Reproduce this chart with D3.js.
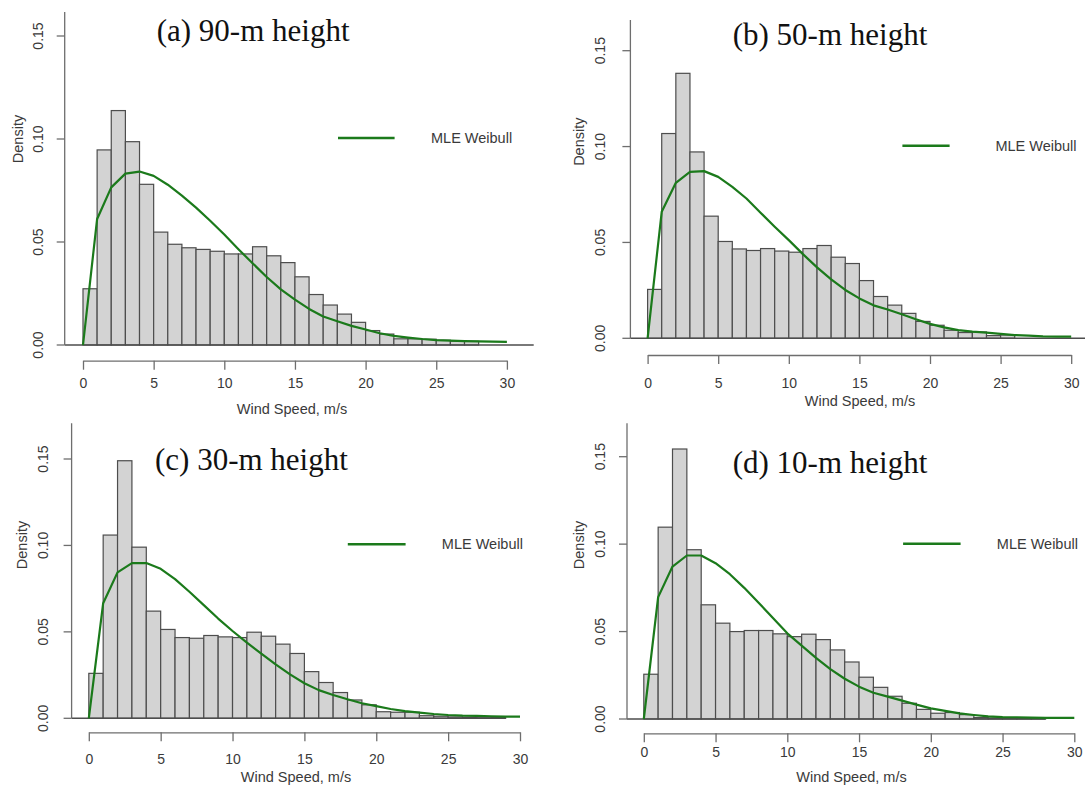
<!DOCTYPE html>
<html>
<head>
<meta charset="utf-8">
<script src="https://cdn.jsdelivr.net/npm/d3@7"></script>
<style>
  html, body { margin: 0; padding: 0; background: #fff; }
  svg { display: block; }
</style>
</head>
<body>
<svg id="chart" width="1085" height="790"></svg>
<script>
// ---- data -------------------------------------------------------------
const xTicks = [0, 5, 10, 15, 20, 25, 30];
const yTicks = [0, 0.05, 0.10, 0.15];
const yTickLabels = ["0.00", "0.05", "0.10", "0.15"];
const binWidth = 1; // m/s, histogram bins start at 0

const panelTitles = ["(a) 90-m height", "(b) 50-m height", "(c) 30-m height", "(d) 10-m height"];
const legendLabel = "MLE Weibull";
const xTitle = "Wind Speed, m/s";
const yTitle = "Density";

// fitted curve evaluated at whole m/s
const curveSpeeds = [0,1,2,3,4,5,6,7,8,9,10,11,12,13,14,15,16,17,18,19,20,21,22,23,24,25,26,27,28,29,30];

// histogram densities per 1 m/s bin
const hist90 = [0.0273, 0.0947, 0.1138, 0.0987, 0.0780, 0.0548, 0.0489, 0.0472, 0.0464, 0.0455,
                0.0442, 0.0442, 0.0477, 0.0433, 0.0400, 0.0331, 0.0245, 0.0194, 0.0150, 0.0110,
                0.0070, 0.0053, 0.0030, 0.0030, 0.0028, 0.0023, 0.0019, 0.0018];
const hist50 = [0.0255, 0.1068, 0.1382, 0.0972, 0.0637, 0.0505, 0.0466, 0.0458, 0.0468, 0.0455,
                0.0449, 0.0468, 0.0484, 0.0423, 0.0390, 0.0301, 0.0218, 0.0173, 0.0130, 0.0088,
                0.0068, 0.0042, 0.0030, 0.0033, 0.0014, 0.0017];
const hist30 = [0.0260, 0.1060, 0.1490, 0.0990, 0.0620, 0.0514, 0.0467, 0.0463, 0.0479, 0.0471,
                0.0467, 0.0498, 0.0475, 0.0429, 0.0375, 0.0270, 0.0207, 0.0149, 0.0106, 0.0078,
                0.0038, 0.0035, 0.0035, 0.0015, 0.0012, 0.0008, 0.0006, 0.0008, 0.0006];
const hist10 = [0.0256, 0.1097, 0.1544, 0.0968, 0.0653, 0.0548, 0.0500, 0.0506, 0.0506, 0.0487,
                0.0471, 0.0485, 0.0454, 0.0395, 0.0326, 0.0239, 0.0181, 0.0130, 0.0090, 0.0055,
                0.0033, 0.0037, 0.0025, 0.0008, 0.0006, 0.0005, 0.0005, 0.0005];

// MLE Weibull density at curveSpeeds
const weibull90 = [0, 0.0612, 0.0765, 0.0832, 0.0842, 0.0821, 0.0778, 0.0725, 0.0667, 0.0603,
                   0.0536, 0.0465, 0.0397, 0.0330, 0.0270, 0.0220, 0.0175, 0.0138, 0.0115, 0.0093,
                   0.0075, 0.0057, 0.0044, 0.0036, 0.0029, 0.0024, 0.0021, 0.0019, 0.0018, 0.0016, 0.0015];
const weibull50 = [0, 0.0660, 0.0811, 0.0868, 0.0872, 0.0842, 0.0790, 0.0729, 0.0655, 0.0582,
                   0.0512, 0.0439, 0.0370, 0.0307, 0.0252, 0.0208, 0.0172, 0.0150, 0.0125, 0.0099,
                   0.0075, 0.0057, 0.0043, 0.0035, 0.0030, 0.0023, 0.0017, 0.0014, 0.0010, 0.0009, 0.0009];
const weibull30 = [0, 0.0666, 0.0844, 0.0898, 0.0898, 0.0865, 0.0805, 0.0732, 0.0655, 0.0577,
                   0.0505, 0.0438, 0.0374, 0.0312, 0.0254, 0.0203, 0.0163, 0.0135, 0.0110, 0.0087,
                   0.0070, 0.0054, 0.0042, 0.0033, 0.0025, 0.0019, 0.0015, 0.0014, 0.0012, 0.0010, 0.0010];
const weibull10 = [0, 0.0697, 0.0872, 0.0935, 0.0935, 0.0891, 0.0828, 0.0750, 0.0665, 0.0578,
                   0.0490, 0.0420, 0.0350, 0.0285, 0.0230, 0.0185, 0.0150, 0.0128, 0.0105, 0.0082,
                   0.0061, 0.0046, 0.0032, 0.0023, 0.0015, 0.0011, 0.0010, 0.0008, 0.0007, 0.0006, 0.0006];

const histograms = [hist90, hist50, hist30, hist10];
const weibullCurves = [weibull90, weibull50, weibull30, weibull10];

// ---- layout (pixels) --------------------------------------------------
const layout = [
  { x0: 83.0,  x1: 506.9,  yZero: 345.0, yTop: 36.0,  axisTop: 12,    yAxisX: 64.7,  xAxisY: 360.7,
    baseEnd: 533.7, titleX: 156.7, titleY: 41, legY: 138, legX0: 338, legX1: 394.6, legTextX: 431,
    yTitleX: 17.9, yTitleY: 139, yLabX: 37.9, xLabY: 383, xTitleX: 292, xTitleY: 409 },
  { x0: 647.6, x1: 1071.2, yZero: 338.3, yTop: 50.7,  axisTop: 20,    yAxisX: 630.4, xAxisY: 355.0,
    baseEnd: 1085,  titleX: 732.7, titleY: 45, legY: 145.7, legX0: 902.4, legX1: 949.6, legTextX: 995.4,
    yTitleX: 579.4, yTitleY: 141.7, yLabX: 600, xLabY: 383, xTitleX: 860, xTitleY: 401 },
  { x0: 88.8,  x1: 520.0,  yZero: 718.3, yTop: 459.0, axisTop: 423.3, yAxisX: 71.6,  xAxisY: 732.3,
    baseEnd: null,  titleX: 155, titleY: 470, legY: 544.3, legX0: 347.8, legX1: 405.6, legTextX: 441.8,
    yTitleX: 21.7, yTitleY: 545, yLabX: 43, xLabY: 759, xTitleX: 296, xTitleY: 777 },
  { x0: 643.8, x1: 1074.3, yZero: 719.0, yTop: 456.7, axisTop: 423.3, yAxisX: 627.0, xAxisY: 733.3,
    baseEnd: null,  titleX: 732.7, titleY: 473, legY: 543.7, legX0: 903.1, legX1: 960.6, legTextX: 996.8,
    yTitleX: 579.4, yTitleY: 545, yLabX: 600, xLabY: 752, xTitleX: 851.5, xTitleY: 777 }
];

const style = {
  barFill: "#d3d3d3", barStroke: "#4d4d4d", axis: "#6e6e6e", text: "#3a3a3a",
  curve: "#1b7a1b", sans: "'Liberation Sans', Arial, sans-serif",
  serif: "'Liberation Serif', 'Times New Roman', serif"
};

// ---- drawing ----------------------------------------------------------
const svg = d3.select("#chart");

layout.forEach((L, p) => {
  const hist = histograms[p];
  const curve = weibullCurves[p];
  const g = svg.append("g");

  const x = d3.scaleLinear().domain([0, 30]).range([L.x0, L.x1]);
  const y = d3.scaleLinear().domain([0, 0.15]).range([L.yZero, L.yTop]);

  // histogram bars
  g.append("g").selectAll("rect")
    .data(hist)
    .join("rect")
    .attr("x", (d, i) => x(i * binWidth))
    .attr("width", (d, i) => x((i + 1) * binWidth) - x(i * binWidth))
    .attr("y", d => y(d))
    .attr("height", d => y(0) - y(d))
    .attr("fill", style.barFill)
    .attr("stroke", style.barStroke)
    .attr("stroke-width", 1.2);

  // zero line under the bars
  const baseEnd = L.baseEnd !== null ? L.baseEnd : x(hist.length * binWidth);
  g.append("line")
    .attr("x1", L.yAxisX).attr("x2", baseEnd)
    .attr("y1", y(0)).attr("y2", y(0))
    .attr("stroke", style.barStroke).attr("stroke-width", 1.4);

  // fitted Weibull density
  const line = d3.line()
    .x((d, i) => x(curveSpeeds[i]))
    .y(d => y(d));
  g.append("path")
    .datum(curve)
    .attr("d", line)
    .attr("fill", "none")
    .attr("stroke", style.curve)
    .attr("stroke-width", 2.2)
    .attr("stroke-linejoin", "round");

  // y axis
  const yAxis = g.append("g").attr("transform", `translate(${L.yAxisX},0)`);
  yAxis.append("line")
    .attr("x1", 0).attr("x2", 0)
    .attr("y1", L.axisTop).attr("y2", y(0))
    .attr("stroke", style.axis).attr("stroke-width", 1.3);
  yAxis.selectAll("line.tick")
    .data(yTicks)
    .join("line")
    .attr("class", "tick")
    .attr("x1", -8).attr("x2", 0)
    .attr("y1", d => y(d)).attr("y2", d => y(d))
    .attr("stroke", style.axis).attr("stroke-width", 1.3);
  g.selectAll("text.ylab")
    .data(yTicks)
    .join("text")
    .attr("class", "ylab")
    .attr("transform", d => `translate(${L.yLabX},${y(d)}) rotate(-90)`)
    .attr("text-anchor", "middle")
    .attr("dominant-baseline", "central")
    .attr("font-family", style.sans)
    .attr("font-size", 14)
    .attr("fill", style.text)
    .text((d, i) => yTickLabels[i]);

  // x axis (offset below the plot)
  const xAxis = d3.axisBottom(x)
    .tickValues(xTicks)
    .tickSize(9)
    .tickSizeOuter(0)
    .tickFormat(d3.format("d"));
  const xg = g.append("g")
    .attr("transform", `translate(0,${L.xAxisY})`)
    .call(xAxis);
  xg.select(".domain").attr("stroke", style.axis).attr("stroke-width", 1.3);
  xg.selectAll(".tick line").attr("stroke", style.axis).attr("stroke-width", 1.3);
  xg.selectAll(".tick text")
    .attr("y", L.xLabY - L.xAxisY)
    .attr("dy", "0.35em")
    .attr("font-family", style.sans)
    .attr("font-size", 14)
    .attr("fill", style.text);

  // axis titles
  g.append("text")
    .attr("x", L.xTitleX).attr("y", L.xTitleY)
    .attr("text-anchor", "middle")
    .attr("dominant-baseline", "central")
    .attr("font-family", style.sans)
    .attr("font-size", 14.5)
    .attr("fill", style.text)
    .text(xTitle);
  g.append("text")
    .attr("transform", `translate(${L.yTitleX},${L.yTitleY}) rotate(-90)`)
    .attr("text-anchor", "middle")
    .attr("dominant-baseline", "central")
    .attr("font-family", style.sans)
    .attr("font-size", 14.5)
    .attr("fill", style.text)
    .text(yTitle);

  // panel title
  g.append("text")
    .attr("x", L.titleX).attr("y", L.titleY)
    .attr("font-family", style.serif)
    .attr("font-size", 31)
    .attr("fill", "#111")
    .text(panelTitles[p]);

  // legend
  g.append("line")
    .attr("x1", L.legX0).attr("x2", L.legX1)
    .attr("y1", L.legY).attr("y2", L.legY)
    .attr("stroke", style.curve).attr("stroke-width", 2.4);
  g.append("text")
    .attr("x", L.legTextX).attr("y", L.legY)
    .attr("dominant-baseline", "central")
    .attr("font-family", style.sans)
    .attr("font-size", 14.5)
    .attr("fill", style.text)
    .text(legendLabel);
});
</script>
</body>
</html>
